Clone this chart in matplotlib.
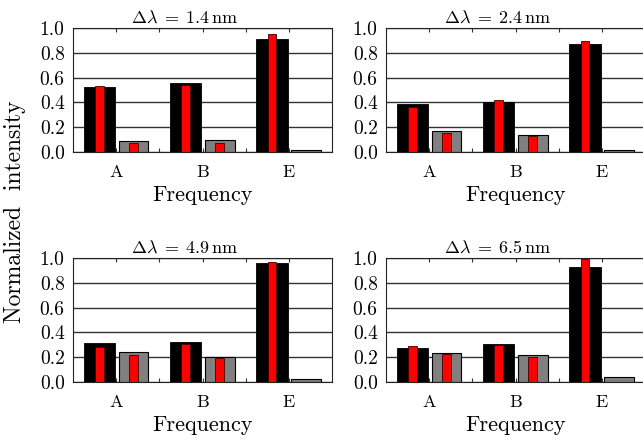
import numpy as np
import matplotlib
matplotlib.use("Agg")
import matplotlib.pyplot as plt
from matplotlib.ticker import FixedLocator

plt.rcParams["font.family"] = ["cmr10", "DejaVu Serif"]
plt.rcParams["mathtext.fontset"] = "cm"
plt.rcParams["axes.formatter.use_mathtext"] = True

categories = ["A", "B", "E"]
titles = [r"$\Delta\lambda\;=\;1.4\,\mathrm{nm}$", r"$\Delta\lambda\;=\;2.4\,\mathrm{nm}$",
          r"$\Delta\lambda\;=\;4.9\,\mathrm{nm}$", r"$\Delta\lambda\;=\;6.5\,\mathrm{nm}$"]

# wide black bars and the red bars drawn inside them
black_vals = [[0.522, 0.559, 0.908], [0.389, 0.400, 0.873],
              [0.311, 0.319, 0.962], [0.276, 0.303, 0.927]]
black_red = [[0.532, 0.540, 0.948], [0.360, 0.419, 0.897],
             [0.284, 0.308, 0.965], [0.287, 0.297, 0.995]]
# wide gray bars and the red bars drawn inside them
gray_vals = [[0.092, 0.095, 0.016], [0.173, 0.141, 0.019],
             [0.238, 0.200, 0.027], [0.233, 0.214, 0.041]]
gray_red = [[0.076, 0.070, 0.003], [0.157, 0.127, 0.003],
            [0.216, 0.195, 0.003], [0.222, 0.200, 0.003]]

fig = plt.figure(figsize=(6.43, 4.41), dpi=100)
W, H = 643.0, 441.0
boxes = [(73, 28), (386, 28), (73, 258), (386, 258)]
aw, ah = 259, 124

x = np.arange(len(categories))
for i, (l, t) in enumerate(boxes):
    ax = fig.add_axes([l / W, 1 - (t + ah) / H, aw / W, ah / H])
    ax.set_axisbelow(True)
    ax.bar(x - 0.195, black_vals[i], 0.36, color="black", edgecolor="black", lw=0.6, zorder=2)
    ax.bar(x - 0.195, black_red[i], 0.1, color="#ff0000", edgecolor="#400000", lw=0.6, zorder=3)
    ax.bar(x + 0.2, gray_vals[i], 0.345, color="#808080", edgecolor="black", lw=0.8, zorder=2)
    ax.bar(x + 0.2, gray_red[i], 0.1, color="#ff0000", edgecolor="#400000", lw=0.6, zorder=3)
    ax.set_xlim(-0.5, 2.5)
    ax.set_ylim(0, 1)
    ax.set_yticks([0, 0.2, 0.4, 0.6, 0.8, 1.0])
    ax.set_yticklabels(["0.0", "0.2", "0.4", "0.6", "0.8", "1.0"])
    ax.yaxis.grid(True, color="#333333", lw=1.0)
    ax.set_xticks(x)
    ax.set_xticklabels(categories)
    ax.xaxis.set_minor_locator(FixedLocator([0.5, 1.5]))
    ax.tick_params(axis="x", which="both", direction="in", top=True, bottom=True,
                   length=3, width=0.8, color="#333333", labelsize=13, pad=9)
    ax.tick_params(axis="y", length=0, labelsize=14, pad=6)
    for s in ax.spines.values():
        s.set_color("#222222")
        s.set_linewidth(0.8)
    ax.set_title(titles[i], fontsize=13, x=0.43, pad=4)
    ax.set_xlabel("Frequency", fontsize=16, labelpad=4)

fig.text(15 / W, 1 - 212 / H, "Normalized  intensity", rotation=90, fontsize=17,
         ha="center", va="center")

fig.savefig("out.png", dpi=100)
